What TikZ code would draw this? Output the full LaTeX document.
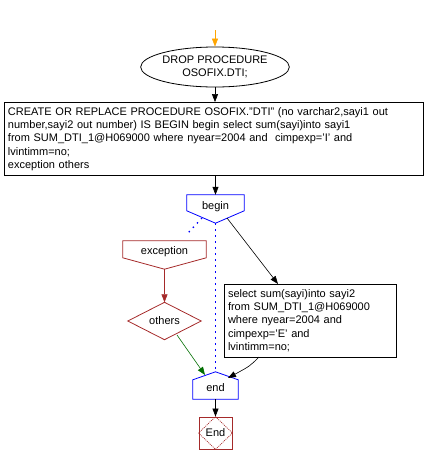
\documentclass[tikz,border=0pt]{standalone}
\usepackage{fontspec}
\setmainfont{Liberation Sans}
\usetikzlibrary{arrows.meta,shapes.geometric}
\definecolor{brn}{RGB}{165,42,42}
\definecolor{grn}{RGB}{0,110,0}
\definecolor{orng}{RGB}{255,165,0}
\definecolor{blu}{RGB}{0,0,255}
\begin{document}
\begin{tikzpicture}[x=1pt,y=-1pt,
  every node/.style={font=\fontsize{11}{13.3}\selectfont, inner sep=0pt},
  conn/.style={line width=0.6pt,-{Triangle[length=8pt,width=6pt]}},
  box/.style={draw, line width=0.8pt, rectangle},
  blank/.style={rectangle, draw=none},
  dots/.style={draw=blu, line width=1.3pt, dash pattern=on 1.3pt off 4.7pt}]
\useasboundingbox (0,0) rectangle (428,464);

% start
\coordinate (s0) at (215,30);
\node[draw, ellipse, line width=0.8pt, minimum width=136pt, minimum height=40pt, align=center] (drop) at (215,67) {DROP PROCEDURE\\OSOFIX.DTI;};

\node[box, minimum width=419pt, minimum height=73pt, text width=411pt, align=left] (create) at (213.5,139)
{CREATE OR REPLACE PROCEDURE OSOFIX."DTI" (no varchar2,sayi1 out\\number,sayi2 out number) IS BEGIN begin select sum(sayi)into sayi1\\from SUM\_DTI\_1@H069000 where nyear=2004 and \ cimpexp='I' and\\lvintimm=no;\\exception others};

% begin
\node[blank, minimum width=57pt, minimum height=28pt] (begin) at (215.5,209) {};
\node at (215.5,207) {begin};
\draw[blu, line width=0.8pt] (begin.north west) -- (begin.north east) -- ([yshift=-16pt]begin.north east) -- (begin.south) -- ([yshift=-16pt]begin.north west) -- cycle;

% exception
\node[blank, minimum width=83pt, minimum height=28pt] (exc) at (164.5,255) {};
\node at (164.5,252) {exception};
\draw[brn, line width=0.8pt] (exc.north west) -- (exc.north east) -- ([yshift=-17pt]exc.north east) -- (exc.south) -- ([yshift=-17pt]exc.north west) -- cycle;

% others diamond
\node[blank, minimum width=73pt, minimum height=37pt] (oth) at (164.5,321) {others};
\draw[brn, line width=0.8pt] (oth.north) -- (oth.east) -- (oth.south) -- (oth.west) -- cycle;

% select box
\node[box, minimum width=172pt, minimum height=73pt, text width=164pt, align=left] (sel) at (310,320.5)
{select sum(sayi)into sayi2\\from SUM\_DTI\_1@H069000\\where nyear=2004 and\\cimpexp='E' and\\lvintimm=no;};

% end pentagon
\node[blank, minimum width=45pt, minimum height=27pt] (end) at (215.5,385.5) {};
\node at (215.5,388) {end};
\draw[blu, line width=0.8pt] (end.north) -- ([yshift=-8pt]end.north east) -- (end.south east) -- (end.south west) -- ([yshift=-8pt]end.north west) -- cycle;

% End terminal
\node[draw=brn, line width=0.8pt, rectangle, minimum width=33pt, minimum height=32pt] (fin) at (215.5,433) {End};
\draw[brn, line width=0.7pt, dash pattern=on 1pt off 1pt] (fin.north) -- (fin.east) -- (fin.south) -- (fin.west) -- cycle;

% connectors
\draw[conn, orng] (s0) -- (drop.north);
\draw[conn] (drop.south) -- (drop.south |- create.north);
\draw[conn] (create.south -| begin.north) -- (begin.north);
\coordinate (b1) at (202,218);
\coordinate (e1) at (188,233);
\draw[dots] (b1) -- (e1);
\draw[dots] (begin.south) -- (end.north);
\coordinate (b2) at (227,218);
\coordinate (s1) at (278,284);
\draw[conn] (b2) -- (s1);
\draw[conn, brn] (exc.south) -- (oth.north);
\coordinate (o1) at (177,335);
\coordinate (n1) at (205,375);
\draw[conn, grn] (o1) -- (n1);
\coordinate (s2) at (259,357);
\coordinate (n2) at (228,378);
\draw[conn] (s2) .. controls (250,366) .. (n2);
\draw[conn] (end.south) -- (fin.north);
\end{tikzpicture}
\end{document}
